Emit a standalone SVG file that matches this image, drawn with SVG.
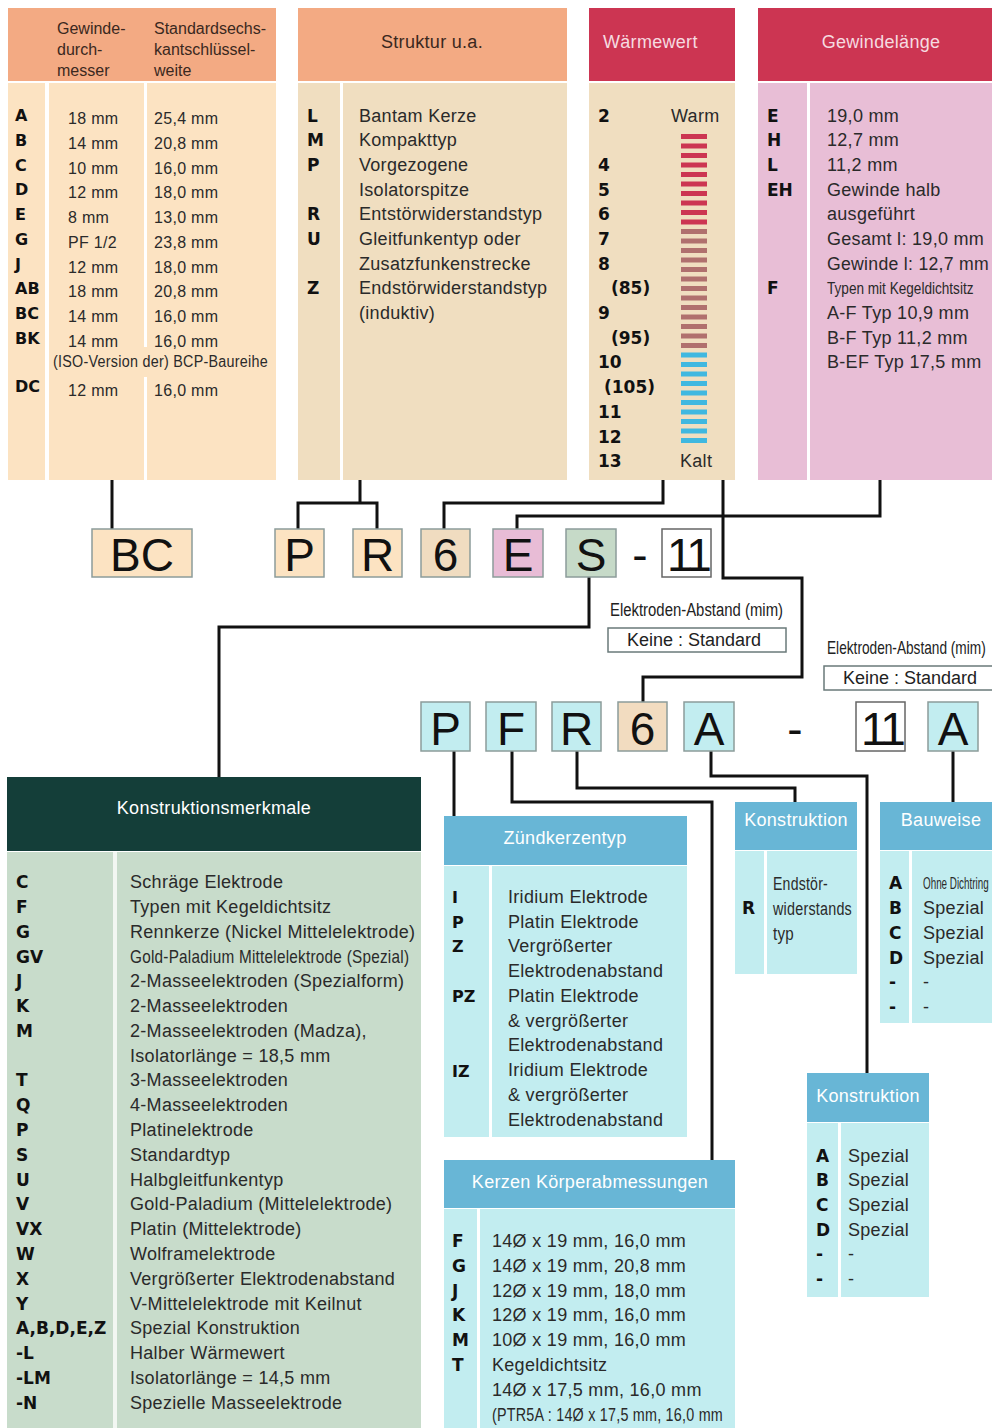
<svg xmlns="http://www.w3.org/2000/svg" width="992" height="1428" viewBox="0 0 992 1428">
<style>
.t{font-family:"Liberation Sans",Arial,sans-serif;font-size:18px;letter-spacing:0.3px;fill:#2a2a2a}
.s{font-size:16px}
.c{font-family:"DejaVu Sans","Liberation Sans",sans-serif;font-weight:bold;font-size:17px;fill:#111}
.cs{font-size:16px}
.hd{font-family:"Liberation Sans",Arial,sans-serif;font-size:18px;letter-spacing:0.3px;fill:#3a2820}
.h1{font-family:"Liberation Sans",Arial,sans-serif;font-size:16px;fill:#3a2820}
.hw{font-family:"Liberation Sans",Arial,sans-serif;font-size:18px;letter-spacing:0.3px;fill:#ffffff}
.hp{fill:#f6dbe0}
.mid{text-anchor:middle}
.big{font-family:"Liberation Sans",Arial,sans-serif;font-size:46px;fill:#111;text-anchor:middle}
.nn{letter-spacing:-3px}
.bx{stroke:#8c9c9a;stroke-width:1.5}
.bw{fill:#ffffff;stroke:#666;stroke-width:1.5}
.ln{fill:none;stroke:#111;stroke-width:3}
.sal{fill:#f3aa83}
.crim{fill:#cc3552}
.peach{fill:#fce3c2}
.beige{fill:#f0dec0}
.pink{fill:#e8bed6}
.teal{fill:#143e39}
.green{fill:#c8dccb}
.blue{fill:#68b6d6}
.cyan{fill:#c2edf0}
.dv{fill:#ffffff}
.red{fill:#cc3552}
.brn{fill:#b0706e}
.sky{fill:#40b8e0}
.lbl{font-family:"Liberation Sans",Arial,sans-serif;font-size:18px;fill:#222}
.nar{font-family:"Liberation Sans",Arial,sans-serif;font-size:17px;fill:#2a2a2a}
</style>

<g id="connectors">
<path class="ln" d="M112,478 V529"/>
<path class="ln" d="M360,478 V503 M298,529 V503 H377 V529"/>
<path class="ln" d="M663,478 V503 H444 V529"/>
<path class="ln" d="M880,478 V516 H517 V529"/>
<path class="ln" d="M723,478 V578 H802 V677 H643 V702"/>
<path class="ln" d="M589,577 V627 H219 V778"/>
<path class="ln" d="M454,751 V816"/>
<path class="ln" d="M512,751 V802 H712 V1160"/>
<path class="ln" d="M577,751 V788 H795 V802"/>
<path class="ln" d="M711,751 V776 H867 V1073"/>
<path class="ln" d="M953,751 V802"/>
</g>

<g id="table-gewinde">
<rect class="sal" x="8" y="8" width="268" height="73"/>
<rect class="peach" x="8" y="83" width="268" height="397"/>
<rect class="dv" x="45" y="83" width="4" height="397"/>
<rect class="dv" x="144" y="83" width="3" height="264"/>
<rect class="dv" x="144" y="377" width="3" height="103"/>
<text class="h1" x="57" y="34">Gewinde-</text>
<text class="h1" x="57" y="55">durch-</text>
<text class="h1" x="57" y="76">messer</text>
<text class="h1" x="154" y="34">Standardsechs-</text>
<text class="h1" x="154" y="55">kantschlüssel-</text>
<text class="h1" x="154" y="76">weite</text>
<text class="c cs" x="15" y="121">A</text>
<text class="c cs" x="15" y="146">B</text>
<text class="c cs" x="15" y="171">C</text>
<text class="c cs" x="15" y="195">D</text>
<text class="c cs" x="15" y="220">E</text>
<text class="c cs" x="15" y="245">G</text>
<text class="c cs" x="15" y="270">J</text>
<text class="c cs" x="15" y="294">AB</text>
<text class="c cs" x="15" y="319">BC</text>
<text class="c cs" x="15" y="344">BK</text>
<text class="c cs" x="15" y="392">DC</text>
<text class="t s" x="68" y="124">18 mm</text>
<text class="t s" x="68" y="149">14 mm</text>
<text class="t s" x="68" y="174">10 mm</text>
<text class="t s" x="68" y="198">12 mm</text>
<text class="t s" x="68" y="223">8 mm</text>
<text class="t s" x="68" y="248">PF 1/2</text>
<text class="t s" x="68" y="273">12 mm</text>
<text class="t s" x="68" y="297">18 mm</text>
<text class="t s" x="68" y="322">14 mm</text>
<text class="t s" x="68" y="347">14 mm</text>
<text class="t s" x="68" y="396">12 mm</text>
<text class="t s" x="154" y="124">25,4 mm</text>
<text class="t s" x="154" y="149">20,8 mm</text>
<text class="t s" x="154" y="174">16,0 mm</text>
<text class="t s" x="154" y="198">18,0 mm</text>
<text class="t s" x="154" y="223">13,0 mm</text>
<text class="t s" x="154" y="248">23,8 mm</text>
<text class="t s" x="154" y="273">18,0 mm</text>
<text class="t s" x="154" y="297">20,8 mm</text>
<text class="t s" x="154" y="322">16,0 mm</text>
<text class="t s" x="154" y="347">16,0 mm</text>
<text class="t s" x="154" y="396">16,0 mm</text>
<text class="t s" x="53" y="367" textLength="215" lengthAdjust="spacingAndGlyphs">(ISO-Version der) BCP-Baureihe</text>
</g>

<g id="table-struktur">
<rect class="sal" x="298" y="8" width="269" height="73"/>
<rect class="beige" x="298" y="83" width="269" height="397"/>
<rect class="dv" x="340" y="83" width="3" height="397"/>
<text class="hd mid" x="432" y="48">Struktur u.a.</text>
<text class="c" x="307" y="122">L</text>
<text class="c" x="307" y="146">M</text>
<text class="c" x="307" y="171">P</text>
<text class="c" x="307" y="220">R</text>
<text class="c" x="307" y="245">U</text>
<text class="c" x="307" y="294">Z</text>
<text class="t" x="359" y="122">Bantam Kerze</text>
<text class="t" x="359" y="146">Kompakttyp</text>
<text class="t" x="359" y="171">Vorgezogene</text>
<text class="t" x="359" y="196">Isolatorspitze</text>
<text class="t" x="359" y="220">Entstörwiderstandstyp</text>
<text class="t" x="359" y="245">Gleitfunkentyp oder</text>
<text class="t" x="359" y="270">Zusatzfunkenstrecke</text>
<text class="t" x="359" y="294">Endstörwiderstandstyp</text>
<text class="t" x="359" y="319">(induktiv)</text>
</g>

<g id="table-waermewert">
<rect class="crim" x="589" y="8" width="146" height="73"/>
<rect class="beige" x="589" y="83" width="146" height="397"/>
<text class="hw hp" x="603" y="48">Wärmewert</text>
<text class="c" x="598" y="122">2</text>
<text class="c" x="598" y="171">4</text>
<text class="c" x="598" y="196">5</text>
<text class="c" x="598" y="220">6</text>
<text class="c" x="598" y="245">7</text>
<text class="c" x="598" y="270">8</text>
<text class="c" x="611" y="294">(85)</text>
<text class="c" x="598" y="319">9</text>
<text class="c" x="611" y="344">(95)</text>
<text class="c" x="598" y="368">10</text>
<text class="c" x="604" y="393">(105)</text>
<text class="c" x="598" y="418">11</text>
<text class="c" x="598" y="443">12</text>
<text class="c" x="598" y="467">13</text>
<text class="t" x="671" y="122">Warm</text>
<text class="t" x="680" y="467">Kalt</text>
<g class="red">
<rect x="681" y="134" width="26" height="5"/><rect x="681" y="143.5" width="26" height="5"/><rect x="681" y="153" width="26" height="5"/><rect x="681" y="162.5" width="26" height="5"/><rect x="681" y="172" width="26" height="5"/><rect x="681" y="181.5" width="26" height="5"/><rect x="681" y="191" width="26" height="5"/><rect x="681" y="200.5" width="26" height="5"/><rect x="681" y="210" width="26" height="5"/><rect x="681" y="219.5" width="26" height="5"/>
</g>
<g class="brn">
<rect x="681" y="229" width="26" height="5"/><rect x="681" y="238.5" width="26" height="5"/><rect x="681" y="248" width="26" height="5"/><rect x="681" y="257.5" width="26" height="5"/><rect x="681" y="267" width="26" height="5"/><rect x="681" y="276.5" width="26" height="5"/><rect x="681" y="286" width="26" height="5"/><rect x="681" y="295.5" width="26" height="5"/><rect x="681" y="305" width="26" height="5"/><rect x="681" y="314.5" width="26" height="5"/><rect x="681" y="324" width="26" height="5"/><rect x="681" y="333.5" width="26" height="5"/><rect x="681" y="343" width="26" height="5"/>
</g>
<g class="sky">
<rect x="681" y="352.5" width="26" height="5"/><rect x="681" y="362" width="26" height="5"/><rect x="681" y="371.5" width="26" height="5"/><rect x="681" y="381" width="26" height="5"/><rect x="681" y="390.5" width="26" height="5"/><rect x="681" y="400" width="26" height="5"/><rect x="681" y="409.5" width="26" height="5"/><rect x="681" y="419" width="26" height="5"/><rect x="681" y="428.5" width="26" height="5"/><rect x="681" y="438" width="26" height="5"/>
</g>
</g>

<g id="table-gewindelaenge">
<rect class="crim" x="758" y="8" width="240" height="73"/>
<rect class="pink" x="758" y="83" width="240" height="397"/>
<rect class="dv" x="807" y="83" width="3" height="397"/>
<text class="hw hp mid" x="881" y="48">Gewindelänge</text>
<text class="c" x="767" y="122">E</text>
<text class="c" x="767" y="146">H</text>
<text class="c" x="767" y="171">L</text>
<text class="c" x="767" y="196">EH</text>
<text class="c" x="767" y="294">F</text>
<text class="t" x="827" y="122">19,0 mm</text>
<text class="t" x="827" y="146">12,7 mm</text>
<text class="t" x="827" y="171">11,2 mm</text>
<text class="t" x="827" y="196">Gewinde halb</text>
<text class="t" x="827" y="220">ausgeführt</text>
<text class="t" x="827" y="245">Gesamt l: 19,0 mm</text>
<text class="t" x="827" y="270" textLength="162" lengthAdjust="spacingAndGlyphs">Gewinde l: 12,7 mm</text>
<text class="nar" transform="translate(827 294) scale(0.8 1)" x="0" y="0">Typen mit Kegeldichtsitz</text>
<text class="t" x="827" y="319">A-F Typ 10,9 mm</text>
<text class="t" x="827" y="344">B-F Typ 11,2 mm</text>
<text class="t" x="827" y="368">B-EF Typ 17,5 mm</text>
</g>

<g id="code-row-1">
<g id="box-BC"><rect class="peach bx" x="92" y="529" width="100" height="48"/><text class="big" x="142" y="571">BC</text></g>
<g id="box-P1"><rect class="peach bx" x="275" y="529" width="49" height="48"/><text class="big" x="299.5" y="571">P</text></g>
<g id="box-R1"><rect class="peach bx" x="353" y="529" width="49" height="48"/><text class="big" x="377.5" y="571">R</text></g>
<g id="box-61"><rect class="bx" fill="#f0dcc0" x="421" y="529" width="49" height="48"/><text class="big" x="445.5" y="571">6</text></g>
<g id="box-E1"><rect class="bx" fill="#e8bcd6" x="493" y="529" width="50" height="48"/><text class="big" x="518" y="571">E</text></g>
<g id="box-S1"><rect class="bx" fill="#c6dac8" x="566" y="529" width="50" height="48"/><text class="big" x="591" y="571">S</text></g>
<text class="big" x="640" y="571">-</text>
<g id="box-111"><rect class="bw" x="662" y="529" width="49" height="48"/><text class="big nn" x="688" y="571">11</text></g>
</g>

<g id="gap-label-1">
<text class="lbl" x="610" y="616" textLength="173" lengthAdjust="spacingAndGlyphs">Elektroden-Abstand (mim)</text>
<rect x="608" y="628" width="178" height="24" fill="#fff" stroke="#6a7a7a" stroke-width="1.5"/>
<text class="lbl" x="627" y="646">Keine : Standard</text>
</g>
<g id="gap-label-2">
<text class="lbl" transform="translate(827 654) scale(0.76 1)" x="0" y="0">Elektroden-Abstand (mim)</text>
<rect x="824" y="666" width="178" height="24" fill="#fff" stroke="#6a7a7a" stroke-width="1.5"/>
<text class="lbl" x="843" y="684">Keine : Standard</text>
</g>

<g id="code-row-2">
<g id="box-P2"><rect class="cyan bx" x="421" y="702" width="49" height="49"/><text class="big" x="445.5" y="745">P</text></g>
<g id="box-F2"><rect class="cyan bx" x="486" y="702" width="50" height="49"/><text class="big" x="511" y="745">F</text></g>
<g id="box-R2"><rect class="cyan bx" x="552" y="702" width="49" height="49"/><text class="big" x="576.5" y="745">R</text></g>
<g id="box-62"><rect class="bx" fill="#f2dcc0" x="618" y="702" width="49" height="49"/><text class="big" x="642.5" y="745">6</text></g>
<g id="box-A2"><rect class="cyan bx" x="684" y="702" width="50" height="49"/><text class="big" x="709" y="745">A</text></g>
<text class="big" x="795" y="745">-</text>
<g id="box-112"><rect class="bw" x="856" y="702" width="49" height="49"/><text class="big nn" x="882" y="745">11</text></g>
<g id="box-A3"><rect class="cyan bx" x="928" y="702" width="50" height="49"/><text class="big" x="953" y="745">A</text></g>
</g>

<g id="table-konstruktionsmerkmale">
<rect class="teal" x="7" y="777" width="414" height="74"/>
<rect class="green" x="7" y="852" width="414" height="576"/>
<rect fill="#f2f7f2" x="113" y="852" width="4" height="576"/>
<text class="hw mid" x="214" y="814">Konstruktionsmerkmale</text>
<text class="c" x="16" y="888">C</text>
<text class="c" x="16" y="913">F</text>
<text class="c" x="16" y="938">G</text>
<text class="c" x="16" y="963">GV</text>
<text class="c" x="16" y="987">J</text>
<text class="c" x="16" y="1012">K</text>
<text class="c" x="16" y="1037">M</text>
<text class="c" x="16" y="1086">T</text>
<text class="c" x="16" y="1111">Q</text>
<text class="c" x="16" y="1136">P</text>
<text class="c" x="16" y="1161">S</text>
<text class="c" x="16" y="1186">U</text>
<text class="c" x="16" y="1210">V</text>
<text class="c" x="16" y="1235">VX</text>
<text class="c" x="16" y="1260">W</text>
<text class="c" x="16" y="1285">X</text>
<text class="c" x="16" y="1310">Y</text>
<text class="c" x="16" y="1334">A,B,D,E,Z</text>
<text class="c" x="16" y="1359">-L</text>
<text class="c" x="16" y="1384">-LM</text>
<text class="c" x="16" y="1409">-N</text>
<text class="t" x="130" y="888">Schräge Elektrode</text>
<text class="t" x="130" y="913">Typen mit Kegeldichtsitz</text>
<text class="t" x="130" y="938">Rennkerze (Nickel Mittelelektrode)</text>
<text class="t" transform="translate(130 963) scale(0.85 1)" x="0" y="0">Gold-Paladium Mittelelektrode (Spezial)</text>
<text class="t" x="130" y="987">2-Masseelektroden (Spezialform)</text>
<text class="t" x="130" y="1012">2-Masseelektroden</text>
<text class="t" x="130" y="1037">2-Masseelektroden (Madza),</text>
<text class="t" x="130" y="1062">Isolatorlänge = 18,5 mm</text>
<text class="t" x="130" y="1086">3-Masseelektroden</text>
<text class="t" x="130" y="1111">4-Masseelektroden</text>
<text class="t" x="130" y="1136">Platinelektrode</text>
<text class="t" x="130" y="1161">Standardtyp</text>
<text class="t" x="130" y="1186">Halbgleitfunkentyp</text>
<text class="t" x="130" y="1210">Gold-Paladium (Mittelelektrode)</text>
<text class="t" x="130" y="1235">Platin (Mittelektrode)</text>
<text class="t" x="130" y="1260">Wolframelektrode</text>
<text class="t" x="130" y="1285">Vergrößerter Elektrodenabstand</text>
<text class="t" x="130" y="1310">V-Mittelelektrode mit Keilnut</text>
<text class="t" x="130" y="1334">Spezial Konstruktion</text>
<text class="t" x="130" y="1359">Halber Wärmewert</text>
<text class="t" x="130" y="1384">Isolatorlänge = 14,5 mm</text>
<text class="t" x="130" y="1409">Spezielle Masseelektrode</text>
</g>

<g id="table-zuendkerzentyp">
<rect class="blue" x="444" y="816" width="243" height="49"/>
<rect class="cyan" x="444" y="866" width="243" height="271"/>
<rect class="dv" x="489" y="866" width="3" height="271"/>
<text class="hw mid" x="565" y="844">Zündkerzentyp</text>
<text class="c cs" x="452" y="903">I</text>
<text class="c cs" x="452" y="928">P</text>
<text class="c cs" x="452" y="952">Z</text>
<text class="c cs" x="452" y="1002">PZ</text>
<text class="c cs" x="452" y="1077">IZ</text>
<text class="t" x="508" y="903">Iridium Elektrode</text>
<text class="t" x="508" y="928">Platin Elektrode</text>
<text class="t" x="508" y="952">Vergrößerter</text>
<text class="t" x="508" y="977">Elektrodenabstand</text>
<text class="t" x="508" y="1002">Platin Elektrode</text>
<text class="t" x="508" y="1027">&amp; vergrößerter</text>
<text class="t" x="508" y="1051">Elektrodenabstand</text>
<text class="t" x="508" y="1076">Iridium Elektrode</text>
<text class="t" x="508" y="1101">&amp; vergrößerter</text>
<text class="t" x="508" y="1126">Elektrodenabstand</text>
</g>

<g id="table-konstruktion-1">
<rect class="blue" x="735" y="802" width="122" height="48"/>
<rect class="cyan" x="735" y="851" width="122" height="123"/>
<rect class="dv" x="764" y="851" width="3" height="123"/>
<text class="hw mid" x="796" y="826">Konstruktion</text>
<text class="c" x="742" y="914">R</text>
<text class="t" x="773" y="890" textLength="55" lengthAdjust="spacingAndGlyphs">Endstör-</text>
<text class="t" x="773" y="915" textLength="79" lengthAdjust="spacingAndGlyphs">widerstands</text>
<text class="t" x="773" y="940" textLength="21" lengthAdjust="spacingAndGlyphs">typ</text>
</g>

<g id="table-bauweise">
<rect class="blue" x="880" y="802" width="120" height="48"/>
<rect class="cyan" x="880" y="851" width="120" height="172"/>
<rect class="dv" x="909" y="851" width="3" height="172"/>
<text class="hw mid" x="941" y="826">Bauweise</text>
<text class="c" x="889" y="889">A</text>
<text class="c" x="889" y="914">B</text>
<text class="c" x="889" y="939">C</text>
<text class="c" x="889" y="964">D</text>
<text class="c" x="889" y="988">-</text>
<text class="c" x="889" y="1013">-</text>
<text class="nar" transform="translate(923 889) scale(0.58 1)" x="0" y="0">Ohne Dichtring</text>
<text class="t" x="923" y="914">Spezial</text>
<text class="t" x="923" y="939">Spezial</text>
<text class="t" x="923" y="964">Spezial</text>
<text class="t" x="923" y="988">-</text>
<text class="t" x="923" y="1013">-</text>
</g>

<g id="table-konstruktion-2">
<rect class="blue" x="807" y="1073" width="122" height="49"/>
<rect class="cyan" x="807" y="1123" width="122" height="174"/>
<rect class="dv" x="838" y="1123" width="3" height="174"/>
<text class="hw mid" x="868" y="1102">Konstruktion</text>
<text class="c" x="816" y="1162">A</text>
<text class="c" x="816" y="1186">B</text>
<text class="c" x="816" y="1211">C</text>
<text class="c" x="816" y="1236">D</text>
<text class="c" x="816" y="1260">-</text>
<text class="c" x="816" y="1285">-</text>
<text class="t" x="848" y="1162">Spezial</text>
<text class="t" x="848" y="1186">Spezial</text>
<text class="t" x="848" y="1211">Spezial</text>
<text class="t" x="848" y="1236">Spezial</text>
<text class="t" x="848" y="1260">-</text>
<text class="t" x="848" y="1285">-</text>
</g>

<g id="table-kerzen">
<rect class="blue" x="444" y="1160" width="291" height="48"/>
<rect class="cyan" x="444" y="1209" width="291" height="219"/>
<rect class="dv" x="477" y="1209" width="3" height="219"/>
<text class="hw mid" x="590" y="1188">Kerzen Körperabmessungen</text>
<text class="c" x="452" y="1247">F</text>
<text class="c" x="452" y="1272">G</text>
<text class="c" x="452" y="1297">J</text>
<text class="c" x="452" y="1321">K</text>
<text class="c" x="452" y="1346">M</text>
<text class="c" x="452" y="1371">T</text>
<text class="t" x="492" y="1247">14Ø x 19 mm, 16,0 mm</text>
<text class="t" x="492" y="1272">14Ø x 19 mm, 20,8 mm</text>
<text class="t" x="492" y="1297">12Ø x 19 mm, 18,0 mm</text>
<text class="t" x="492" y="1321">12Ø x 19 mm, 16,0 mm</text>
<text class="t" x="492" y="1346">10Ø x 19 mm, 16,0 mm</text>
<text class="t" x="492" y="1371">Kegeldichtsitz</text>
<text class="t" x="492" y="1396">14Ø x 17,5 mm, 16,0 mm</text>
<text class="t" x="492" y="1421" textLength="231" lengthAdjust="spacingAndGlyphs">(PTR5A : 14Ø x 17,5 mm, 16,0 mm</text>
</g>
</svg>
